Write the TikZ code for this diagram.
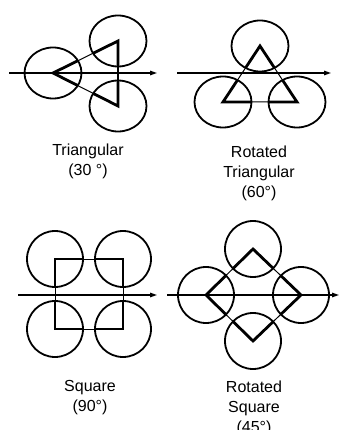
\documentclass[tikz,border=0pt]{standalone}
\usepackage{fontspec}
\setmainfont{Liberation Sans}
\usetikzlibrary{arrows.meta,shapes.geometric}

\begin{document}
\begin{tikzpicture}[
    x=1pt, y=-1pt,
    ring/.style={
        draw,
        circle,
        line width=1.8pt,
        minimum size=56pt,
        inner sep=0pt
    },
    flatring/.style={
        draw,
        ellipse,
        line width=1.8pt,
        minimum width=57pt,
        minimum height=51pt,
        inner sep=0pt
    },
    flow/.style={
        -{Triangle[length=7pt,width=4.5pt]},
        line width=1.3pt
    },
    edge/.style={
        line width=1pt
    },
    heavyedge/.style={
        line width=2.8pt
    },
    caption/.style={
        anchor=north,
        align=center,
        inner sep=0pt,
        font=\fontsize{16}{20}\selectfont
    }
]

\useasboundingbox (0,0) rectangle (340,430);

% ------------------------------------------------------------------
% Triangular (30)
% ------------------------------------------------------------------

\node[flatring] (trileft) at (53,73) {};
\node[flatring] (tritop) at (118,41) {};
\node[flatring] (tribot) at (118,106) {};

\draw[edge] (trileft.center) -- (tritop.center) -- (tribot.center) -- cycle;
\begin{scope}
    \clip (trileft.center) ellipse[x radius=28.5, y radius=25.5]
          (tritop.center) ellipse[x radius=28.5, y radius=25.5]
          (tribot.center) ellipse[x radius=28.5, y radius=25.5];
    \draw[heavyedge] (trileft.center) -- (tritop.center)
        -- (tribot.center) -- cycle;
\end{scope}
\draw[heavyedge] (tritop.center) -- (tribot.center);

\coordinate (triin) at (9,73);
\coordinate (triout) at (157,73);
\draw[flow] (triin) -- (triout);

\node[caption] (tricap) at (88,144) {Triangular\\(30 °)};

% ------------------------------------------------------------------
% Rotated triangular (60)
% ------------------------------------------------------------------

\node[flatring] (rtritop) at (260,46) {};
\node[flatring] (rtrileft) at (223,102) {};
\node[flatring] (rtriright) at (297,102) {};

\draw[edge] (rtritop.center) -- (rtrileft.center) -- (rtriright.center) -- cycle;
\begin{scope}
    \clip (rtritop.center) ellipse[x radius=28.5, y radius=25.5]
          (rtrileft.center) ellipse[x radius=28.5, y radius=25.5]
          (rtriright.center) ellipse[x radius=28.5, y radius=25.5];
    \draw[heavyedge] (rtritop.center) -- (rtrileft.center)
        -- (rtriright.center) -- cycle;
\end{scope}

\coordinate (rtriin) at (177,73);
\coordinate (rtriout) at (331,73);
\draw[flow] (rtriin) -- (rtriout);

\node[caption] (rtricap) at (259,146) {Rotated\\Triangular\\(60°)};

% ------------------------------------------------------------------
% Square (90)
% ------------------------------------------------------------------

\node[ring] (sqtl) at (55,259) {};
\node[ring] (sqtr) at (123,259) {};
\node[ring] (sqbr) at (123,329) {};
\node[ring] (sqbl) at (55,329) {};

\draw[edge] (sqtl.center) -- (sqtr.center) -- (sqbr.center)
    -- (sqbl.center) -- cycle;
\begin{scope}
    \clip (sqtl.center) circle[radius=28] (sqtr.center) circle[radius=28]
          (sqbr.center) circle[radius=28] (sqbl.center) circle[radius=28];
    \draw[heavyedge] (sqtl.center) -- (sqtr.center) -- (sqbr.center)
        -- (sqbl.center) -- cycle;
\end{scope}

\coordinate (sqin) at (18,295);
\coordinate (sqout) at (157,295);
\draw[flow] (sqin) -- (sqout);

\node[caption] (sqcap) at (90,380) {Square\\(90°)};

% ------------------------------------------------------------------
% Rotated square (45)
% ------------------------------------------------------------------

\node[ring] (rsqtop) at (253,249) {};
\node[ring] (rsqleft) at (206,295) {};
\node[ring] (rsqright) at (301,295) {};
\node[ring] (rsqbot) at (253,341) {};

\draw[edge] (rsqtop.center) -- (rsqright.center) -- (rsqbot.center)
    -- (rsqleft.center) -- cycle;
\begin{scope}
    \clip (rsqtop.center) circle[radius=28] (rsqright.center) circle[radius=28]
          (rsqbot.center) circle[radius=28] (rsqleft.center) circle[radius=28];
    \draw[heavyedge] (rsqtop.center) -- (rsqright.center) -- (rsqbot.center)
        -- (rsqleft.center) -- cycle;
\end{scope}

\coordinate (rsqin) at (167,295);
\coordinate (rsqout) at (339,295);
\draw[flow] (rsqin) -- (rsqout);

\node[caption] (rsqcap) at (254,381) {Rotated\\Square\\(45°)};

\end{tikzpicture}
\end{document}
